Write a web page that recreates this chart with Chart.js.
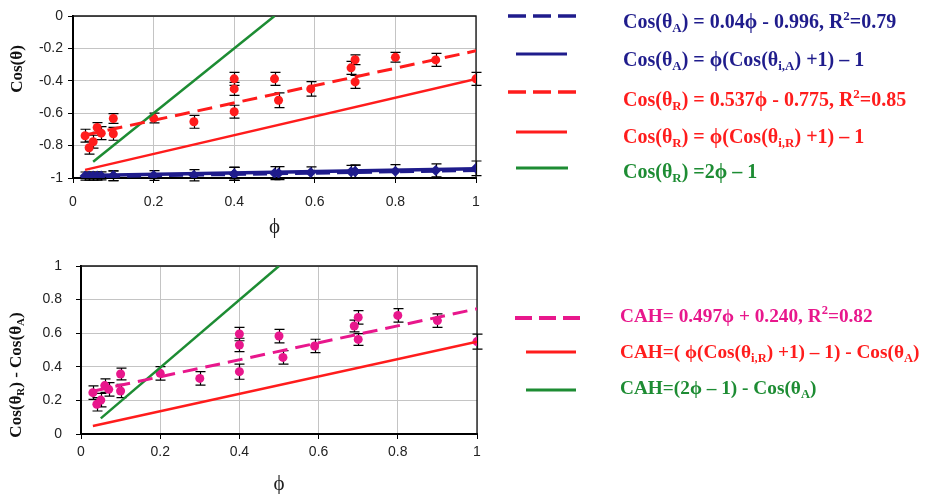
<!DOCTYPE html>
<html><head><meta charset="utf-8">
<script src="https://cdn.jsdelivr.net/npm/chart.js@4.4.1/dist/chart.umd.min.js"></script>
<style>
html,body{margin:0;padding:0;background:#fff;width:926px;height:494px;overflow:hidden;}
#top{position:absolute;left:0;top:0;width:926px;height:247px;}
#bot{position:absolute;left:0;top:240px;width:926px;height:254px;}
</style></head><body>
<div id="top"><canvas id="c1"></canvas></div>
<div id="bot"><canvas id="c2"></canvas></div>
<script>
// ---------- data ----------
const phi     = [0.03, 0.04, 0.05, 0.06, 0.07, 0.1, 0.1, 0.2, 0.3, 0.4, 0.4, 0.4, 0.5, 0.51, 0.59, 0.69, 0.7, 0.7, 0.8, 0.9, 1.0];
const cosR    = [-0.739, -0.813, -0.776, -0.688, -0.723, -0.633, -0.727, -0.63, -0.653, -0.388, -0.45, -0.591, -0.388, -0.52, -0.45, -0.32, -0.27, -0.407, -0.255, -0.271, -0.388];
const cosRErr = [0.04, 0.04, 0.04, 0.03, 0.04, 0.03, 0.04, 0.03, 0.04, 0.04, 0.04, 0.04, 0.04, 0.045, 0.045, 0.04, 0.03, 0.04, 0.03, 0.04, 0.04];
const cosA    = [-0.988, -0.988, -0.988, -0.988, -0.987, -0.986, -0.986, -0.985, -0.983, -0.975, -0.975, -0.975, -0.97, -0.97, -0.966, -0.962, -0.96, -0.96, -0.958, -0.953, -0.94];
const cosAErr = [0.025, 0.025, 0.025, 0.025, 0.025, 0.03, 0.03, 0.03, 0.035, 0.04, 0.04, 0.04, 0.04, 0.04, 0.035, 0.04, 0.04, 0.04, 0.04, 0.04, 0.045];
const cah     = [0.246, 0.177, 0.202, 0.288, 0.266, 0.357, 0.256, 0.361, 0.331, 0.595, 0.53, 0.371, 0.583, 0.456, 0.524, 0.643, 0.694, 0.563, 0.706, 0.675, 0.55];
const cahErr  = [0.04, 0.04, 0.04, 0.04, 0.04, 0.035, 0.04, 0.04, 0.04, 0.04, 0.04, 0.045, 0.04, 0.04, 0.04, 0.035, 0.04, 0.035, 0.04, 0.04, 0.045];

// line end points
const fitAX   = [0.03, 1],  fitAY   = [-0.992, -0.952];
const modelAX = [0.03, 1],  modelAY = [-0.985, -0.943];
const fitRX   = [0.03, 1],  fitRY   = [-0.735, -0.215];
const modelRX = [0.03, 1],  modelRY = [-0.95, -0.388];
const lineTX  = [0.05, 0.5], lineTY = [-0.9, 0];
const fitCX   = [0.03, 1],  fitCY   = [0.255, 0.745];
const modelCX = [0.03, 1],  modelCY = [0.048, 0.55];
const lineBX  = [0.05, 0.5], lineBY = [0.093, 1.0];

const topLabels = [
  'Cos(θ_{A}) = 0.04ϕ - 0.996, R^{2}=0.79',
  'Cos(θ_{A}) = ϕ(Cos(θ_{i,A}) +1) – 1',
  'Cos(θ_{R}) = 0.537ϕ - 0.775, R^{2}=0.85',
  'Cos(θ_{R}) = ϕ(Cos(θ_{i,R}) +1) – 1',
  'Cos(θ_{R}) =2ϕ – 1'
];
const botLabels = [
  'CAH= 0.497ϕ + 0.240, R^{2}=0.82',
  'CAH=( ϕ(Cos(θ_{i,R}) +1) – 1) - Cos(θ_{A})',
  'CAH=(2ϕ – 1) - Cos(θ_{A})'
];
const topYTitle = 'Cos(θ)';
const botYTitle = 'Cos(θ_{R}) - Cos(θ_{A})';
const xTitle = 'ϕ';

// ---------- styling ----------
const NAVY = '#1f1c8c', RED = '#ff1c1c', GREEN = '#1d8c33', PINK = '#e8178c';
const SERIF = '"Liberation Serif", "DejaVu Serif", serif';
Chart.defaults.font.family = '"Liberation Sans", Arial, sans-serif';

function pts(xs, ys) { return xs.map((x, i) => ({x, y: ys[i]})); }
const fmt = v => String(parseFloat(Number(v).toFixed(2)));

function segs(str) {
  const out = []; let i = 0, buf = '';
  while (i < str.length) {
    const c = str[i];
    if ((c === '_' || c === '^') && str[i + 1] === '{') {
      if (buf) { out.push({t: buf, m: 0}); buf = ''; }
      const end = str.indexOf('}', i + 2);
      out.push({t: str.slice(i + 2, end), m: c === '_' ? 1 : -1});
      i = end + 1;
    } else { buf += c; i++; }
  }
  if (buf) out.push({t: buf, m: 0});
  return out;
}
const SUB = 0.65;
function richWidth(ctx, str, size) {
  let w = 0;
  for (const s of segs(str)) {
    ctx.font = 'bold ' + (s.m ? size * SUB : size) + 'px ' + SERIF;
    w += ctx.measureText(s.t).width;
  }
  return w;
}
function drawRich(ctx, str, x, y, size, color) {
  ctx.save();
  ctx.fillStyle = color; ctx.textBaseline = 'alphabetic'; ctx.textAlign = 'left';
  for (const s of segs(str)) {
    ctx.font = 'bold ' + (s.m ? size * SUB : size) + 'px ' + SERIF;
    const dy = s.m === 1 ? size * 0.2 : (s.m === -1 ? -size * 0.38 : 0);
    ctx.fillText(s.t, x, y + dy);
    x += ctx.measureText(s.t).width;
  }
  ctx.restore();
}

const errorBars = {
  id: 'errorBars',
  beforeDatasetsDraw(chart) {
    const ctx = chart.ctx, ys = chart.scales.y;
    chart.data.datasets.forEach((ds, di) => {
      if (!ds.errors) return;
      const meta = chart.getDatasetMeta(di);
      ctx.save(); ctx.strokeStyle = '#000'; ctx.lineWidth = 1.2;
      meta.data.forEach((el, i) => {
        const v = ds.data[i].y, e = ds.errors[i];
        const x = Math.round(el.x) + 0.5;
        const y1 = ys.getPixelForValue(v + e), y2 = ys.getPixelForValue(v - e);
        ctx.beginPath();
        ctx.moveTo(x, y1); ctx.lineTo(x, y2);
        ctx.moveTo(x - 5, y1); ctx.lineTo(x + 5, y1);
        ctx.moveTo(x - 5, y2); ctx.lineTo(x + 5, y2);
        ctx.stroke();
      });
      ctx.restore();
    });
  }
};
const frame = {
  id: 'frame',
  beforeDatasetsDraw(chart) {
    const {ctx, chartArea: a} = chart;
    ctx.save(); ctx.strokeStyle = '#111'; ctx.lineWidth = 1.3;
    ctx.beginPath();
    ctx.moveTo(a.left, a.top); ctx.lineTo(a.right, a.top); ctx.lineTo(a.right, a.bottom);
    ctx.stroke(); ctx.restore();
  }
};
const richLegend = {
  id: 'richLegend',
  afterDraw(chart, args, opts) {
    const ctx = chart.ctx;
    if (opts.yTitle) {
      const t = opts.yTitle;
      const w = richWidth(ctx, t.text, t.size);
      ctx.save(); ctx.translate(t.cx, t.cy); ctx.rotate(-Math.PI / 2);
      drawRich(ctx, t.text, -w / 2, t.size * 0.33, t.size, '#111');
      ctx.restore();
    }
    (opts.items || []).forEach(it => {
      const ds = chart.data.datasets[it.ds];
      ctx.save();
      ctx.strokeStyle = ds.borderColor; ctx.lineWidth = it.lw;
      ctx.setLineDash(it.dash || []);
      ctx.beginPath(); ctx.moveTo(it.x1, it.ly); ctx.lineTo(it.x2, it.ly); ctx.stroke();
      ctx.restore();
      drawRich(ctx, it.label, it.tx, it.ty, opts.size, it.color);
    });
  }
};

function scales(ymin, ymax, yWidth, xHeight, yPad, xPad, titlePad, titleLH) {
  return {
    x: {
      type: 'linear', min: 0, max: 1,
      ticks: {stepSize: 0.2, padding: xPad, color: '#222', font: {size: 14}, callback: fmt},
      grid: {color: '#c4c4c4', lineWidth: 1, tickLength: 5, tickColor: '#000'},
      border: {color: '#000', width: 2},
      title: {display: true, text: xTitle, color: '#222', font: {family: SERIF, size: 21, lineHeight: titleLH}, padding: {top: 0, bottom: titlePad}},
      afterFit(s) { s.height = xHeight; }
    },
    y: {
      type: 'linear', min: ymin, max: ymax,
      ticks: {stepSize: 0.2, padding: yPad, color: '#222', font: {size: 14}, callback: fmt},
      grid: {color: '#c4c4c4', lineWidth: 1, tickLength: 5, tickColor: '#000'},
      border: {color: '#000', width: 2},
      afterFit(s) { s.width = yWidth; }
    }
  };
}
const lineDs = (xs, ys, color, width, dash) => ({data: pts(xs, ys), showLine: true, pointRadius: 0, borderColor: color, backgroundColor: color, borderWidth: width, borderDash: dash || [], fill: false});

// ---------- top chart ----------
new Chart(document.getElementById('c1'), {
  type: 'scatter',
  data: {datasets: [
    lineDs(fitAX, fitAY, NAVY, 3.5, [14, 7]),
    lineDs(modelAX, modelAY, NAVY, 3.5),
    lineDs(fitRX, fitRY, RED, 3, [15, 8]),
    lineDs(modelRX, modelRY, RED, 2.5),
    lineDs(lineTX, lineTY, GREEN, 2.5),
    {data: pts(phi, cosR), errors: cosRErr, showLine: false, pointRadius: 4.5, pointStyle: 'circle', backgroundColor: RED, borderColor: RED, borderWidth: 0},
    {data: pts(phi, cosA), errors: cosAErr, showLine: false, pointRadius: 5.5, pointStyle: 'rectRot', backgroundColor: NAVY, borderColor: NAVY, borderWidth: 0}
  ]},
  options: {
    responsive: true, maintainAspectRatio: false, animation: false,
    layout: {padding: {top: 16, right: 450, left: 0, bottom: 0}},
    scales: scales(-1, 0, 73, 69, 5, 11, 7, 1.2),
    plugins: {
      legend: {display: false}, tooltip: {enabled: false},
      richLegend: {
        size: 20,
        yTitle: {text: topYTitle, cx: 16, cy: 69, size: 17},
        items: [
          {ds: 0, label: topLabels[0], color: NAVY, x1: 508, x2: 578, ly: 16, lw: 3.5, dash: [18, 7], tx: 623, ty: 28},
          {ds: 1, label: topLabels[1], color: NAVY, x1: 516, x2: 567, ly: 54, lw: 3, tx: 623, ty: 66},
          {ds: 2, label: topLabels[2], color: RED, x1: 508, x2: 578, ly: 92, lw: 3.5, dash: [18, 7], tx: 623, ty: 105.5},
          {ds: 3, label: topLabels[3], color: RED, x1: 516, x2: 567, ly: 132, lw: 3, tx: 623, ty: 143},
          {ds: 4, label: topLabels[4], color: GREEN, x1: 516, x2: 568, ly: 168, lw: 3, tx: 623, ty: 178}
        ]
      }
    }
  },
  plugins: [errorBars, frame, richLegend]
});

// ---------- bottom chart ----------
new Chart(document.getElementById('c2'), {
  type: 'scatter',
  data: {datasets: [
    lineDs(fitCX, fitCY, PINK, 3, [15, 8]),
    lineDs(modelCX, modelCY, RED, 2.5),
    lineDs(lineBX, lineBY, GREEN, 2.5),
    {data: pts(phi, cah), errors: cahErr, showLine: false, pointRadius: 4.5, pointStyle: 'circle', backgroundColor: PINK, borderColor: PINK, borderWidth: 0}
  ]},
  options: {
    responsive: true, maintainAspectRatio: false, animation: false,
    layout: {padding: {top: 26, right: 449, left: 0, bottom: 0}},
    scales: scales(0, 1, 81, 60, 14, 5, 0, 0.9),
    plugins: {
      legend: {display: false}, tooltip: {enabled: false},
      richLegend: {
        size: 19.3,
        yTitle: {text: botYTitle, cx: 15, cy: 135, size: 17},
        items: [
          {ds: 0, label: botLabels[0], color: PINK, x1: 515, x2: 582, ly: 78, lw: 4, dash: [17, 7], tx: 620, ty: 81.5},
          {ds: 1, label: botLabels[1], color: RED, x1: 526, x2: 576, ly: 112, lw: 3, tx: 620, ty: 118},
          {ds: 2, label: botLabels[2], color: GREEN, x1: 526, x2: 576, ly: 150, lw: 3, tx: 620, ty: 154}
        ]
      }
    }
  },
  plugins: [errorBars, frame, richLegend]
});
</script>
</body></html>
